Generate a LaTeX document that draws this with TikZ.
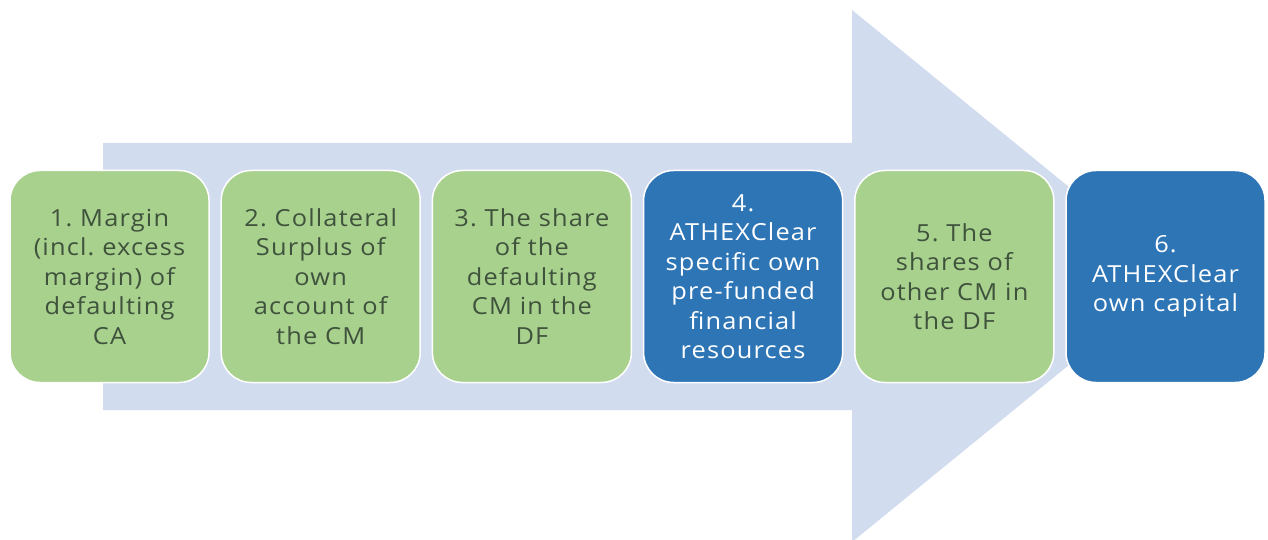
\documentclass[tikz,border=0pt]{standalone}
\usepackage{fontspec}
\setmainfont{Open Sans}[FakeStretch=1.08,LetterSpace=5]
\usepackage{tikz}
\usetikzlibrary{positioning}
\frenchspacing
\definecolor{stagegreen}{RGB}{169,209,142}
\definecolor{stageblue}{RGB}{46,117,182}
\definecolor{flowfill}{RGB}{209,220,239}
\definecolor{stagetext}{RGB}{62,82,60}
\tikzset{stage/.style={rectangle, rounded corners=30pt, minimum width=199pt, minimum height=212pt, text width=192pt, inner sep=2pt, outer sep=0pt, draw=white, line width=1.5pt, align=center, font=\fontsize{23.5}{29.5}\selectfont},
greenstage/.style={stage, fill=stagegreen, text=stagetext},
bluestage/.style={stage, fill=stageblue, text=white}}

\begin{document}
\begin{tikzpicture}[x=1pt,y=1pt]
\useasboundingbox (0,0) rectangle (1268,539);
% big flow arrow behind the stages
\fill[flowfill] (103,129) -- (852,129) -- (852,-3) -- (1178,263) -- (852,529) -- (852,396) -- (103,396) -- cycle;
% default waterfall
\node[greenstage] (margin) at (109.5,262.5) {1. Margin\\(incl. excess\\margin) of\\defaulting\\CA};
\node[greenstage, right=12.2pt of margin] (surplus) {2. Collateral\\Surplus of\\own\\account of\\the CM};
\node[greenstage, right=12.2pt of surplus] (dfshare) {3. The share\\of the\\defaulting\\CM in the\\DF};
\node[bluestage, right=12.2pt of dfshare] (prefunded) {4.\\ATHEXClear\\specific own\\pre-funded\\financial\\resources};
\node[greenstage, right=12.2pt of prefunded] (othershares) {5. The\\shares of\\other CM in\\the DF};
\node[bluestage, right=12.2pt of othershares] (capital) {6.\\ATHEXClear\\own capital};
\end{tikzpicture}
\end{document}
